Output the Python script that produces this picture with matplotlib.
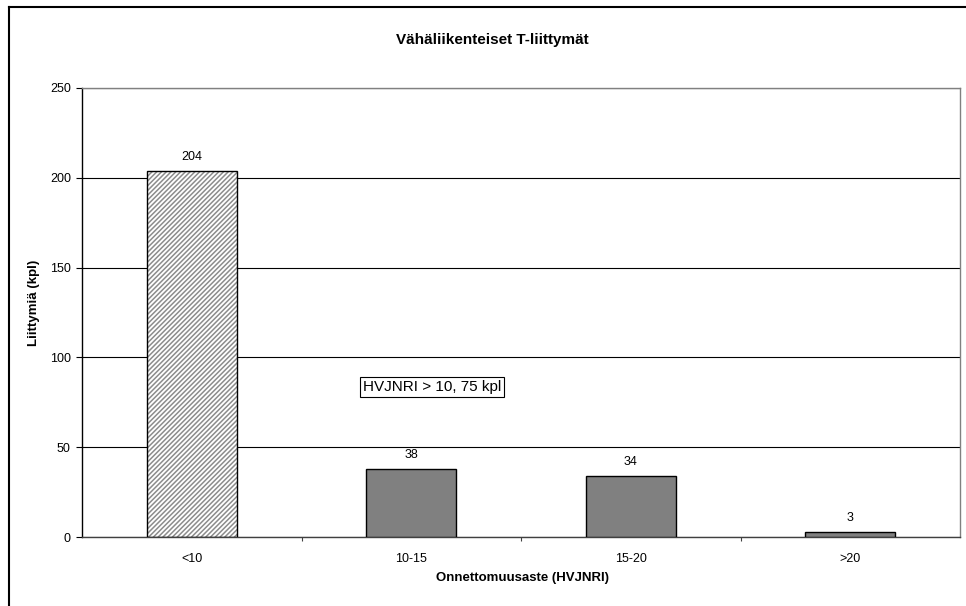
import matplotlib
matplotlib.use("Agg")
import matplotlib.pyplot as plt
from matplotlib.lines import Line2D

plt.rcParams['font.family'] = ['Liberation Sans', 'DejaVu Sans']
plt.rcParams['hatch.linewidth'] = 1.1

categories = ['<10', '10-15', '15-20', '>20']
counts = [204, 38, 34, 3]
title = 'Vähäliikenteiset T-liittymät'
xlabel = 'Onnettomuusaste (HVJNRI)'
ylabel = 'Liittymiä (kpl)'
note = 'HVJNRI > 10, 75 kpl'
yticks = [0, 50, 100, 150, 200, 250]

W, H = 966, 606
fig = plt.figure(figsize=(W / 100, H / 100), dpi=100)
ax = fig.add_axes([82 / W, 1 - 537 / H, (960 - 82) / W, (537 - 88) / H])

x = list(range(len(categories)))
bw = 0.41
fs = 9
# first bar hatched, rest solid grey
ax.bar(x[0], counts[0], width=bw, color='white', edgecolor='#8c8c8c',
       hatch='///////', linewidth=0, zorder=2)
ax.bar(x[0], counts[0], width=bw, fill=False, edgecolor='black',
       linewidth=1.0, zorder=3)
ax.bar(x[1:], counts[1:], width=bw, color='#808080', edgecolor='black',
       linewidth=1.0, zorder=3)

for xi, c in zip(x, counts):
    ax.text(xi, c + 4.5, str(c), ha='center', va='bottom', fontsize=fs)

ax.set_xlim(-0.5, len(categories) - 0.5)
ax.set_ylim(0, 250)
ax.set_yticks(yticks)
ax.set_yticklabels([str(t) for t in yticks], fontsize=fs)
ax.yaxis.grid(True, color='black', linewidth=0.8)
ax.set_axisbelow(True)

# category labels centred, ticks at category boundaries
ax.set_xticks([i + 0.5 for i in x[:-1]])
ax.set_xticklabels([])
ax.tick_params(axis='x', length=3, width=0.8, color='#404040')
ax.tick_params(axis='y', length=4, width=0.8, pad=4)
for xi, lab in zip(x, categories):
    ax.text(xi, -9, lab, ha='center', va='top', fontsize=fs)

ax.spines['left'].set_color('black')
ax.spines['bottom'].set_color('#404040')
ax.spines['top'].set_color('#808080')
ax.spines['right'].set_color('#808080')
for s in ax.spines.values():
    s.set_linewidth(1.0)

ax.text(1.095, 83.5, note, ha='center', va='center', fontsize=11,
        bbox=dict(boxstyle='square,pad=0.2', facecolor='white',
                  edgecolor='black', linewidth=0.8), zorder=5)

fig.text(492 / W, 1 - 40 / H, title, ha='center', va='center',
         fontsize=11, fontweight='bold')
fig.text(522 / W, 1 - 578 / H, xlabel, ha='center', va='center',
         fontsize=9.5, fontweight='bold')
fig.text(34 / W, 1 - 303 / H, ylabel, ha='center', va='center',
         rotation=90, fontsize=9.5, fontweight='bold')

# outer chart frame (left and top edges)
fig.add_artist(Line2D([8.5 / W, 8.5 / W], [0, 1 - 6.5 / H],
                      transform=fig.transFigure, color='black', linewidth=1.5))
fig.add_artist(Line2D([8.5 / W, 1], [1 - 6.5 / H, 1 - 6.5 / H],
                      transform=fig.transFigure, color='black', linewidth=1.5))

fig.savefig('out.png', dpi=100, facecolor='white')
